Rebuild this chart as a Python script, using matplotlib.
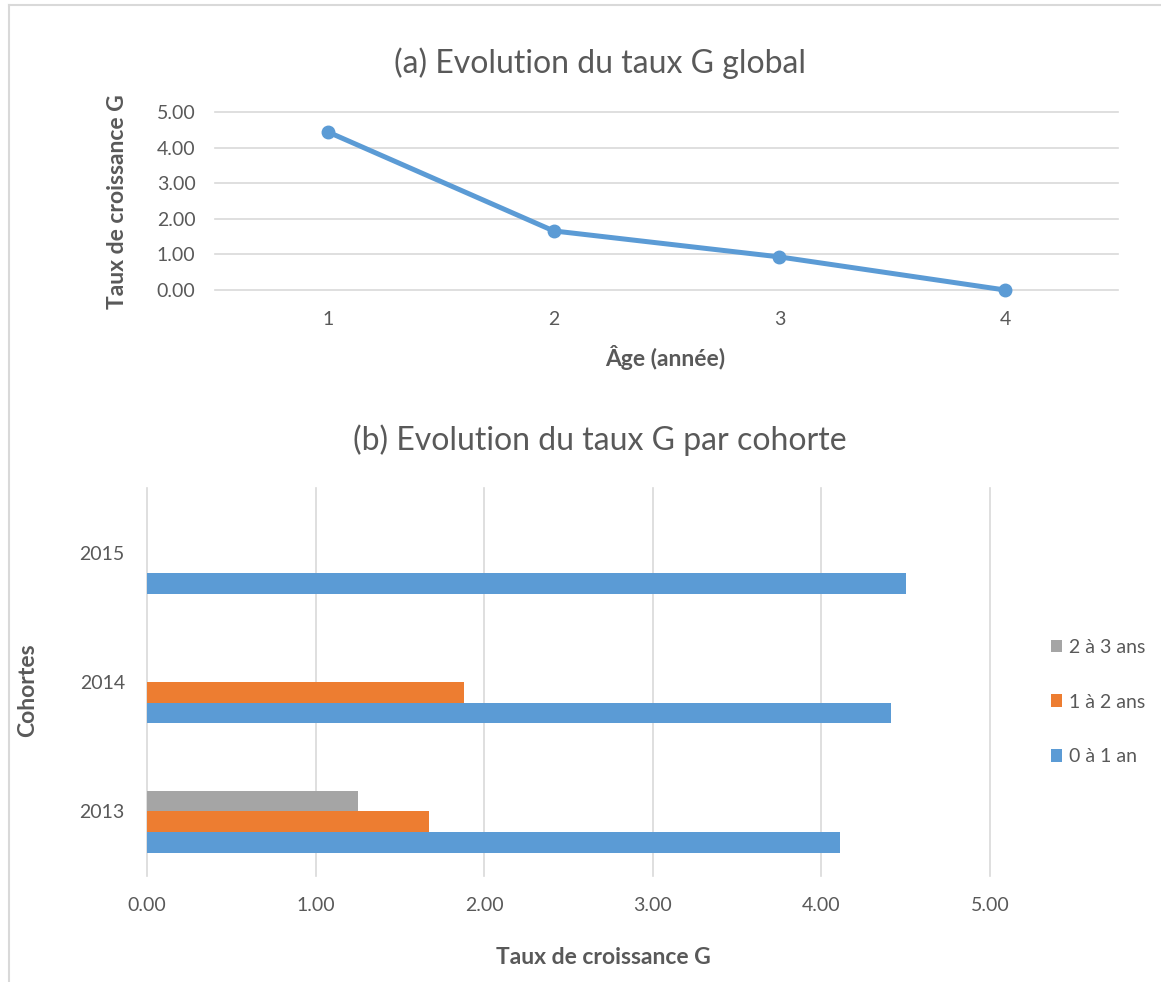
import matplotlib
matplotlib.use('Agg')
import matplotlib.pyplot as plt
import numpy as np

plt.rcParams['font.family'] = ['Lato', 'DejaVu Sans']

# (a) taux G global par âge
ages = ['1', '2', '3', '4']
taux_global = [4.44, 1.66, 0.93, 0.0]

# (b) taux G par cohorte
cohortes = ['2013', '2014', '2015']
series_noms = ['0 à 1 an', '1 à 2 ans', '2 à 3 ans']
g_0_1 = [4.11, 4.41, 4.50]
g_1_2 = [1.67, 1.88, np.nan]
g_2_3 = [1.25, np.nan, np.nan]
yticks_lab = ['0.00', '1.00', '2.00', '3.00', '4.00', '5.00']

BLEU = '#5B9BD5'
ORANGE = '#ED7D31'
GRIS = '#A5A5A5'
GRID = '#D9D9D9'
TXT = '#595959'

W, H = 1161, 982
fig = plt.figure(figsize=(W / 100, H / 100), dpi=100)
fig.patch.set_facecolor('white')


def box(l, t, r, b):
    return [l / W, 1 - b / H, (r - l) / W, (b - t) / H]


# cadre gris clair
fig.add_artist(plt.Line2D([9 / W, 9 / W], [0, 1 - 5 / H], color=GRID, lw=1.5))
fig.add_artist(plt.Line2D([9 / W, 1], [1 - 5 / H, 1 - 5 / H], color=GRID, lw=1.5))

# ---- graphique (a)
ax1 = fig.add_axes(box(215, 112, 1118, 290))
x = np.arange(1, len(ages) + 1)
ax1.plot(x, taux_global, '-o', color=BLEU, lw=3.6, ms=9, zorder=3, clip_on=False)
ax1.set_xlim(0.5, 4.5)
ax1.set_ylim(0, 5)
ax1.set_xticks(x)
ax1.set_xticklabels(ages)
ax1.set_yticks(range(6))
ax1.set_yticklabels(yticks_lab)
ax1.grid(axis='y', color=GRID, lw=1.2)
for gl in ax1.get_ygridlines():
    gl.set_clip_on(False)
ax1.set_axisbelow(True)
for s in ax1.spines.values():
    s.set_visible(False)
ax1.tick_params(length=0, labelsize=14, labelcolor=TXT)
ax1.tick_params(axis='y', pad=14)
ax1.tick_params(axis='x', pad=15)

fig.text(600 / W, 1 - 63 / H, '(a) Evolution du taux G global', ha='center', va='center',
         fontsize=23, color=TXT)
fig.text(117 / W, 1 - 202 / H, 'Taux de croissance G', ha='center', va='center',
         rotation=90, fontsize=16.5, fontweight='bold', color=TXT)
fig.text(665 / W, 1 - 357 / H, 'Âge (année)', ha='center', va='center',
         fontsize=16.5, fontweight='bold', color=TXT)

# ---- graphique (b)
ax2 = fig.add_axes(box(147, 488, 990, 876))
y = np.arange(len(cohortes))
h = 0.16
couleurs = [BLEU, ORANGE, GRIS]
for i, (vals, nom, c) in enumerate(zip([g_0_1, g_1_2, g_2_3], series_noms, couleurs)):
    ax2.barh(y + (i - 1.5) * h, vals, height=h, color=c, label=nom, zorder=3)
ax2.set_ylim(-0.5, 2.5)
ax2.set_xlim(0, 5)
ax2.set_yticks(y)
ax2.set_yticklabels(cohortes)
ax2.set_xticks(range(6))
ax2.set_xticklabels(yticks_lab)
ax2.grid(axis='x', color=GRID, lw=1.2)
for gl in ax2.get_xgridlines():
    gl.set_clip_on(False)
ax2.set_axisbelow(True)
for s in ax2.spines.values():
    s.set_visible(False)
ax2.tick_params(length=0, labelsize=14, labelcolor=TXT)
ax2.tick_params(axis='y', pad=16)
ax2.tick_params(axis='x', pad=15)

hd, lb = ax2.get_legend_handles_labels()
leg = fig.legend(hd[::-1], lb[::-1], loc='center left', bbox_to_anchor=(1033 / W, 1 - 702 / H),
                 frameon=False, fontsize=14, labelcolor=TXT, handlelength=0.6, handleheight=0.6,
                 handletextpad=0.35, labelspacing=1.95)

fig.text(600 / W, 1 - 440 / H, '(b) Evolution du taux G par cohorte', ha='center', va='center',
         fontsize=23, color=TXT)
fig.text(28 / W, 1 - 690 / H, 'Cohortes', ha='center', va='center', rotation=90,
         fontsize=16.5, fontweight='bold', color=TXT)
fig.text(603 / W, 1 - 957 / H, 'Taux de croissance G', ha='center', va='center',
         fontsize=16.5, fontweight='bold', color=TXT)

fig.savefig('out.png', dpi=100, facecolor='white')
